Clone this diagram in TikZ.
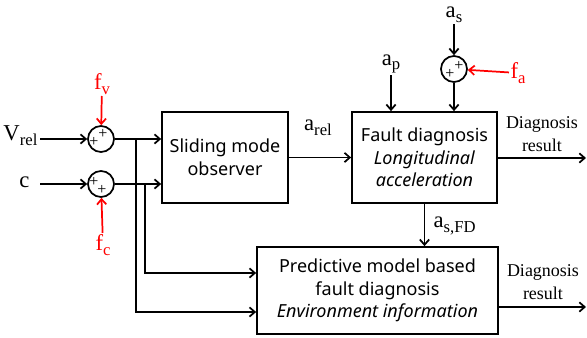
\documentclass[tikz,border=0pt]{standalone}
\usepackage{fontspec}
\setmainfont{Liberation Serif}
\newfontfamily\blockfont{Noto Sans}
\usetikzlibrary{arrows.meta, positioning, calc}
\definecolor{faultred}{RGB}{255, 0, 0}

% lowered subscript for signal names
\newcommand{\sgsub}[1]{\raisebox{-0.45ex}{\fontsize{12.5}{12.5}\selectfont #1}}

\tikzset{
  block/.style={draw, line width=1.3pt, inner sep=0pt, align=center, font=\blockfont\fontsize{13.5}{17}\selectfont},
  sumnode/.style={draw, circle, line width=1.3pt, minimum size=19.5pt, inner sep=0pt},
  pluslbl/.style={inner sep=0pt, font=\fontsize{12}{12}\selectfont},
  sig/.style={inner sep=1pt, font=\fontsize{17}{17}\selectfont},
  note/.style={inner sep=1pt, align=center, font=\fontsize{13.5}{17}\selectfont},
  wire/.style={line width=1.3pt, -{Straight Barb[length=4pt, width=7pt]}}
}

\begin{document}
\begin{tikzpicture}[x=0.75pt, y=-0.75pt]
  \useasboundingbox (0,0) rectangle (587,338);

  % Blocks
  \node[block, minimum width=94.5pt, minimum height=68.25pt] (smo) at (225, 157.5) {Sliding mode\\observer};
  \node[block, minimum width=108.75pt, minimum height=68.25pt] (fd) at (424.5, 157.5) {Fault diagnosis\\\textit{Longitudinal}\\\textit{acceleration}};
  \node[block, minimum width=180.75pt, minimum height=65.25pt] (pmd) at (377.5, 290.5) {Predictive model based\\fault diagnosis\\\textit{Environment information}};

  % Summing junctions
  \node[sumnode] (s1) at (101, 139) {};
  \node[sumnode] (s2) at (101, 184) {};
  \node[sumnode] (s3) at (454, 69) {};
  \node[pluslbl] at ($(s1)+(2,-5)$) {+};
  \node[pluslbl] at ($(s1)+(-7,3)$) {+};
  \node[pluslbl] at ($(s2)+(-7,-2)$) {+};
  \node[pluslbl] at ($(s2)+(1,6)$) {+};
  \node[pluslbl] at ($(s3)+(5,-3)$) {+};
  \node[pluslbl] at ($(s3)+(-4,5)$) {+};

  % Signals
  \node[sig, anchor=east] (vrel) at (39, 136) {V\sgsub{rel}};
  \node[sig, anchor=east] (cin) at (31, 182) {c};
  \node[sig, text=faultred] (fv) at (102, 84) {f\sgsub{v}};
  \node[sig, text=faultred] (fc) at (103, 245) {f\sgsub{c}};
  \node[sig] (ap) at (391, 64) {a\sgsub{p}};
  \node[sig] (as) at (454, 15) {a\sgsub{s}};
  \node[sig, text=faultred, anchor=west] (fa) at (509, 73) {f\sgsub{a}};
  \node[sig] (arel) at (318, 128) {a\sgsub{rel}};
  \node[sig, anchor=west] (asfd) at (432, 226) {a\sgsub{s,FD}};
  \node[note] (dr1) at (542, 134) {Diagnosis\\result};
  \node[note] (dr2) at (543, 282) {Diagnosis\\result};
  \coordinate (out1) at (586, 158);
  \coordinate (out2) at (586, 307);

  % Inputs to the junctions
  \draw[wire] (40, 139) -- (s1);
  \draw[wire] (40, 184) -- (s2);
  \draw[wire, draw=faultred] (fv) -- (s1);
  \draw[wire, draw=faultred] (fc) -- (s2);
  \draw[wire] (as) -- (s3);
  \draw[wire, draw=faultred] (fa) -- (s3);

  % Junctions to observer
  \draw[wire] (s1) -- (s1 -| smo.west);
  \draw[wire] (s2) -- (s2 -| smo.west);

  % Branches to the predictive block
  \coordinate (b1) at (136, 139);
  \coordinate (b2) at (145, 184);
  \draw[wire] (b1) |- ($(pmd.west)+(0,21.5)$);
  \draw[wire] (b2) |- ($(pmd.west)+(0,-17.5)$);

  % Longitudinal fault diagnosis
  \draw[wire] (smo) -- (fd);
  \draw[wire] (ap) -- (ap |- fd.north);
  \draw[wire] (s3) -- (s3 |- fd.north);
  \draw[wire] (fd.south) -- (fd.south |- pmd.north);

  % Outputs
  \draw[wire] (fd.east |- out1) -- (out1);
  \draw[wire] (pmd.east |- out2) -- (out2);
\end{tikzpicture}
\end{document}
